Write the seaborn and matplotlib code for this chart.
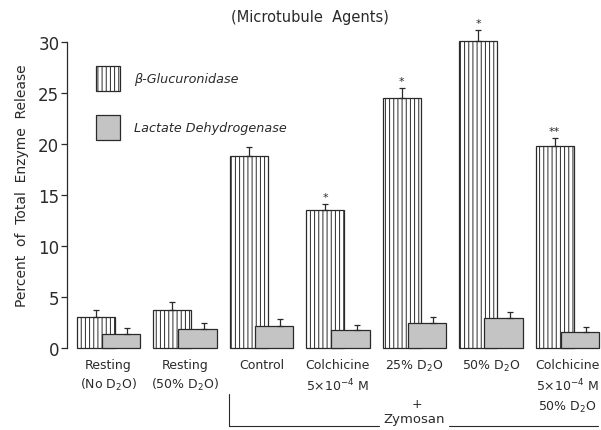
import matplotlib
matplotlib.use('Agg')
import matplotlib.pyplot as plt
from matplotlib.lines import Line2D
from matplotlib.patches import Patch
import seaborn as sns
import pandas as pd
import numpy as np

# values
conditions = ['Resting\n(No D$_2$O)', 'Resting\n(50% D$_2$O)', 'Control',
              'Colchicine\n5×10$^{-4}$ M', '25% D$_2$O', '50% D$_2$O',
              'Colchicine\n5×10$^{-4}$ M\n50% D$_2$O']
glucuronidase = [3.0, 3.7, 18.8, 13.5, 24.5, 30.1, 19.8]
gluc_err = [0.75, 0.8, 0.95, 0.6, 0.95, 1.1, 0.75]
ldh = [1.4, 1.9, 2.2, 1.8, 2.45, 2.95, 1.6]
ldh_err = [0.55, 0.6, 0.65, 0.45, 0.6, 0.6, 0.45]
signif = ['', '', '', '*', '*', '*', '**']

sns.set_style('ticks')
plt.rcParams['font.family'] = ['DejaVu Sans']
plt.rcParams['hatch.linewidth'] = 0.7
plt.rcParams['mathtext.fontset'] = 'dejavusans'
ink = '#2a2a2a'

pos = np.arange(len(conditions))
off = 0.165
df_g = pd.DataFrame({'x': pos - off, 'y': glucuronidase})
df_l = pd.DataFrame({'x': pos + off, 'y': ldh})

fig = plt.figure(figsize=(6.01, 4.31), dpi=100)
ax = fig.add_axes([0.1115, 0.190, 0.8885, 0.7576])

sns.barplot(data=df_g, x='x', y='y', native_scale=True, width=0.5, errorbar=None,
            color='white', edgecolor=ink, linewidth=0.9, hatch='||||', ax=ax)
sns.barplot(data=df_l, x='x', y='y', native_scale=True, width=0.5, errorbar=None,
            color='#c4c4c4', edgecolor=ink, linewidth=0.9, ax=ax)
for p in ax.patches:
    p.set_clip_on(False)

ax.errorbar(pos - off, glucuronidase, yerr=[np.zeros(7), gluc_err], fmt='none',
            ecolor=ink, elinewidth=0.9, capsize=2, capthick=0.9, clip_on=False)
ax.errorbar(pos + off + 0.08, ldh, yerr=[np.zeros(7), ldh_err], fmt='none',
            ecolor=ink, elinewidth=0.9, capsize=2, capthick=0.9, clip_on=False)
for i, s in enumerate(signif):
    if s:
        ax.text(pos[i] - off, glucuronidase[i] + gluc_err[i] + 0.2, s,
                ha='center', va='bottom', fontsize=8, color=ink)

ax.set_xlim(-0.54, 6.44)
ax.set_ylim(0, 32)
ax.set_yticks(range(0, 31, 5))
ax.spines['left'].set_bounds(0, 30)
for side in ['top', 'right', 'bottom']:
    ax.spines[side].set_visible(False)
ax.spines['left'].set_color(ink)
ax.spines['left'].set_linewidth(0.9)
ax.set_xticks(pos)
ax.set_xticklabels(conditions, fontsize=9, color=ink, linespacing=1.45, va='top')
ax.tick_params(axis='x', length=0, pad=7)
ax.tick_params(axis='y', length=4, width=0.9, color=ink, labelsize=12,
               labelcolor=ink, pad=1.5)
ax.set_xlabel('')
ax.set_ylabel('Percent  of  Total  Enzyme  Release', fontsize=10, color=ink, labelpad=7)

fig.text(0.515, 0.96, '(Microtubule  Agents)', ha='center', va='center',
         fontsize=10.5, color=ink)

handles = [Patch(facecolor='white', edgecolor=ink, hatch='||||', linewidth=0.9),
           Patch(facecolor='#c4c4c4', edgecolor=ink, linewidth=0.9)]
ax.legend(handles, ['β-Glucuronidase', 'Lactate Dehydrogenase'], loc='upper left',
          bbox_to_anchor=(0.054, 0.864), frameon=False, borderpad=0,
          borderaxespad=0, handlelength=1.9, handleheight=2.6,
          labelspacing=1.9, handletextpad=1.1, prop={'style': 'italic', 'size': 9.2})
for t in ax.get_legend().get_texts():
    t.set_color(ink)

# Zymosan bracket
W, H = 601, 431
def fx(px):
    return px / W
def fy(py):
    return 1 - py / H
fig.add_artist(Line2D([fx(229), fx(229)], [fy(395), fy(427)], color=ink, lw=0.8))
fig.add_artist(Line2D([fx(229), fx(379)], [fy(427), fy(427)], color=ink, lw=0.8))
fig.add_artist(Line2D([fx(449), fx(598)], [fy(427), fy(427)], color=ink, lw=0.8))
fig.text(fx(414), fy(420), 'Zymosan', ha='center', va='center', fontsize=9.5, color=ink)
fig.text(fx(417), fy(405), '+', ha='center', va='center', fontsize=9, color=ink)

fig.savefig('out.png', dpi=100)
